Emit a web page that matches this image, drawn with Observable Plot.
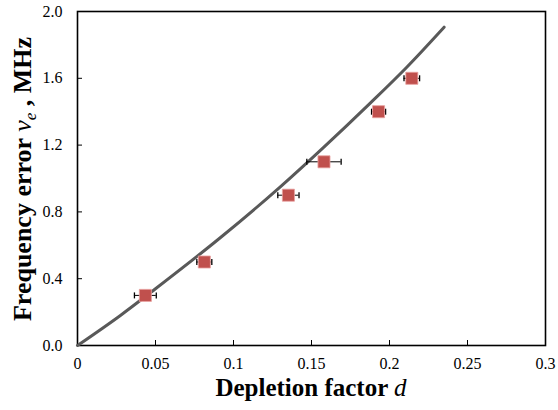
<!DOCTYPE html>
<html>
<head>
<meta charset="utf-8">
<script src="https://cdn.jsdelivr.net/npm/d3@7"></script>
<script src="https://cdn.jsdelivr.net/npm/@observablehq/plot@0.6"></script>
<style>
  html, body { margin: 0; padding: 0; background: #fff; }
  #chart svg { display: block; }
  #chart svg text { font-family: 'Liberation Serif', 'Times New Roman', serif; }
</style>
</head>
<body>
<div id="chart"></div>
<script>
// Measured points (depletion factor, frequency error) with horizontal error
const pointD = [0.0435, 0.0813, 0.1352, 0.158, 0.193, 0.2143];
const pointV = [0.30, 0.50, 0.90, 1.10, 1.40, 1.60];
const pointErr = [0.007, 0.0048, 0.0068, 0.011, 0.0045, 0.005];

// Theory curve
const curveD = [0, 0.0275, 0.05, 0.0915, 0.13, 0.1576, 0.1875, 0.2109, 0.235];
const curveV = [0, 0.18, 0.34, 0.645, 0.95, 1.185, 1.45, 1.665, 1.906];

// Tick labels
const xTicks = [0, 0.05, 0.1, 0.15, 0.2, 0.25, 0.3];
const xTickLabels = ["0", "0.05", "0.1", "0.15", "0.2", "0.25", "0.3"];
const yTicks = [0, 0.4, 0.8, 1.2, 1.6, 2.0];
const yTickLabels = ["0.0", "0.4", "0.8", "1.2", "1.6", "2.0"];

const points = pointD.map((d, i) => ({d, v: pointV[i], lo: d - pointErr[i], hi: d + pointErr[i]}));
const curve = curveD.map((d, i) => ({d, v: curveV[i]}));

const vbar = {
  draw(ctx, size) {
    const h = Math.sqrt(size / Math.PI);
    ctx.moveTo(0, -h);
    ctx.lineTo(0, h);
  }
};

const fmtX = (d) => xTickLabels[xTicks.findIndex(t => Math.abs(t - d) < 1e-9)];
const fmtY = (d) => yTickLabels[yTicks.findIndex(t => Math.abs(t - d) < 1e-9)];

const W = 558, H = 410;
const plot = Plot.plot({
  width: W,
  height: H,
  marginLeft: 77,
  marginRight: 13,
  marginTop: 11,
  marginBottom: 65,
  style: {fontFamily: "'Liberation Serif', 'Times New Roman', serif", fontSize: "16px", color: "#000", background: "#fff"},
  x: {domain: [0, 0.3], label: null},
  y: {domain: [0, 2.0], label: null},
  marks: [
    Plot.frame({stroke: "#000", strokeWidth: 1.6}),
    Plot.axisX({ticks: xTicks, tickSize: -5, tickPadding: 17, tickFormat: fmtX, stroke: "#000", fontSize: 16}),
    Plot.axisY({ticks: yTicks, tickSize: -5, tickPadding: 20, tickFormat: fmtY, stroke: "#000", fontSize: 16}),
    Plot.line(curve, {x: "d", y: "v", stroke: "#595959", strokeWidth: 3, curve: "monotone-x"}),
    Plot.ruleY(points, {y: "v", x1: "lo", x2: "hi", stroke: "#000", strokeWidth: 1}),
    Plot.dot(points, {x: "lo", y: "v", symbol: vbar, r: 3, stroke: "#000", strokeWidth: 1.3}),
    Plot.dot(points, {x: "hi", y: "v", symbol: vbar, r: 3, stroke: "#000", strokeWidth: 1.3}),
    Plot.dot(points, {x: "d", y: "v", symbol: "square", r: 6.8, fill: "#C0504D", stroke: "#E8A09E", strokeWidth: 0.8})
  ]
});

const svg = d3.select(plot);
// X axis title
const xt = svg.append("text")
  .attr("x", 311).attr("y", 396)
  .attr("text-anchor", "middle")
  .style("font-size", "25px").style("font-weight", "bold").attr("fill", "#000");
xt.append("tspan").text("Depletion factor ");
xt.append("tspan").style("font-style", "italic").style("font-weight", "normal").text("d");

// Y axis title
const yt = svg.append("text")
  .attr("transform", "translate(31,179) rotate(-90)")
  .attr("text-anchor", "middle")
  .style("font-size", "26px").style("font-weight", "bold").attr("fill", "#000");
yt.append("tspan").text("Frequency error ");
yt.append("tspan").style("font-style", "italic").style("font-weight", "normal").text("ν");
yt.append("tspan").style("font-style", "italic").style("font-weight", "normal").style("font-size", "17px").attr("dy", "5").text("e");
yt.append("tspan").attr("dy", "-5").text(" , MHz");

document.getElementById("chart").appendChild(plot);
</script>
</body>
</html>
